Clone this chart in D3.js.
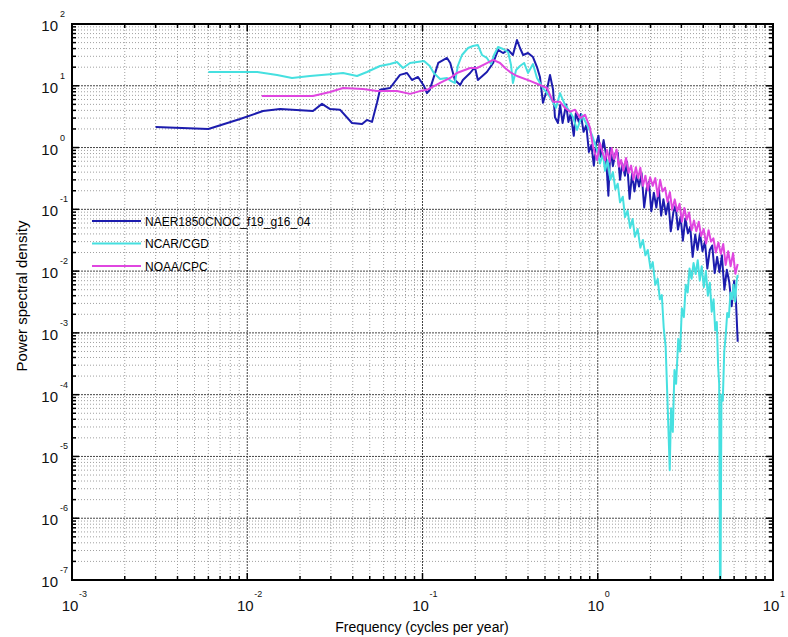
<!DOCTYPE html>
<html>
<head>
<meta charset="utf-8">
<script src="https://cdn.jsdelivr.net/npm/d3@7"></script>
<style>
  body { margin: 0; background: #fff; }
  svg { display: block; font-family: "Liberation Sans", Arial, sans-serif; }
</style>
</head>
<body>
<svg id="chart"></svg>
<script>
// [frequency (cycles/yr), power spectral density]
const naer = [
  [0.0030, 2.15], [0.0060, 2.0], [0.0091, 2.9], [0.0123, 3.9], [0.0154, 4.2], [0.0237, 3.9],
  [0.0267, 5.1], [0.0297, 4.2], [0.0338, 4.1], [0.0396, 2.5], [0.0452, 2.4], [0.0482, 2.8],
  [0.0515, 2.6], [0.0550, 5.3], [0.0572, 8.6], [0.0653, 9.2], [0.0744, 15.0], [0.0816, 16.1],
  [0.0871, 12.4], [0.0943, 13.9], [0.102, 9.9], [0.106, 7.6], [0.110, 8.6], [0.123, 23.4],
  [0.138, 28.2], [0.144, 23.4], [0.153, 12.4], [0.164, 10.3], [0.170, 12.4], [0.187, 16.1],
  [0.199, 20.1], [0.207, 12.4], [0.233, 16.7], [0.253, 23.4], [0.270, 38.0], [0.288, 33.9],
  [0.308, 38.0], [0.328, 31.5], [0.346, 55.1], [0.360, 40.9], [0.375, 31.5], [0.400, 33.9],
  [0.427, 29.2], [0.450, 20.1], [0.468, 13.9], [0.487, 5.3], [0.513, 8.6], [0.534, 15.0],
  [0.556, 8.6], [0.570, 3.1], [0.593, 2.5], [0.61, 4.9], [0.63, 2.5], [0.66, 5.0],
  [0.68, 2.6], [0.70, 3.5], [0.73, 1.55], [0.75, 3.6], [0.78, 2.6], [0.80, 3.5],
  [0.83, 1.8], [0.86, 2.3], [0.89, 0.85], [0.92, 1.1], [0.95, 0.51], [0.98, 1.17],
  [1.01, 1.55], [1.04, 0.71], [1.08, 1.32], [1.11, 0.83], [1.15, 0.166], [1.18, 0.98],
  [1.22, 0.50], [1.26, 0.81], [1.30, 0.83], [1.34, 0.30], [1.38, 0.55], [1.43, 0.35],
  [1.47, 0.59], [1.52, 0.148], [1.57, 0.38], [1.62, 0.195], [1.67, 0.355], [1.72, 0.234],
  [1.78, 0.38], [1.84, 0.107], [1.90, 0.219], [1.96, 0.28], [2.02, 0.093], [2.09, 0.186],
  [2.16, 0.107], [2.23, 0.219], [2.30, 0.079], [2.37, 0.145], [2.45, 0.083], [2.53, 0.135],
  [2.61, 0.044], [2.70, 0.089], [2.78, 0.115], [2.87, 0.047], [2.97, 0.076], [3.06, 0.031],
  [3.16, 0.071], [3.27, 0.041], [3.37, 0.052], [3.48, 0.017], [3.60, 0.039], [3.71, 0.022],
  [3.83, 0.041], [3.96, 0.021], [4.09, 0.030], [4.22, 0.011], [4.36, 0.022], [4.50, 0.026],
  [4.65, 0.0093], [4.80, 0.017], [4.95, 0.0096], [5.11, 0.018], [5.28, 0.005], [5.45, 0.0105],
  [5.63, 0.0066], [5.81, 0.0027], [6.0, 0.0069], [6.15, 0.0032], [6.29, 0.00072]
];

const ncar = [
  [0.0060, 16.7], [0.0080, 16.7], [0.0114, 16.7], [0.0148, 15.0], [0.0180, 13.4], [0.0228, 14.4],
  [0.0309, 15.5], [0.0352, 16.1], [0.0423, 14.4], [0.0482, 16.7], [0.0572, 20.9], [0.0653, 22.5],
  [0.0715, 24.3], [0.0774, 19.4], [0.0849, 23.4], [0.093, 24.3], [0.102, 25.2], [0.110, 20.9],
  [0.116, 16.1], [0.126, 12.9], [0.138, 13.4], [0.145, 12.0], [0.153, 11.1], [0.159, 20.9],
  [0.168, 31.5], [0.182, 40.9], [0.194, 44.1], [0.207, 45.7], [0.2185, 31.5], [0.233, 28.2],
  [0.246, 22.5], [0.256, 31.5], [0.270, 42.4], [0.288, 39.4], [0.308, 35.2], [0.320, 21.7],
  [0.328, 11.1], [0.342, 18.0], [0.360, 20.9], [0.380, 23.4], [0.400, 16.1], [0.427, 22.5],
  [0.450, 13.4], [0.487, 9.2], [0.534, 6.6], [0.578, 4.4], [0.609, 7.6], [0.650, 4.9],
  [0.695, 3.8], [0.723, 3.1], [0.762, 1.93], [0.813, 3.37], [0.869, 2.32], [0.927, 1.60],
  [0.99, 0.92], [1.03, 0.55], [1.07, 0.80], [1.10, 0.42], [1.14, 0.62], [1.18, 0.30],
  [1.22, 0.40], [1.26, 0.21], [1.30, 0.26], [1.34, 0.13], [1.39, 0.16], [1.43, 0.075],
  [1.48, 0.095], [1.53, 0.05], [1.58, 0.07], [1.63, 0.036], [1.69, 0.048], [1.75, 0.024],
  [1.81, 0.032], [1.87, 0.018], [1.93, 0.022], [2.0, 0.011], [2.06, 0.014], [2.13, 0.006],
  [2.2, 0.0075], [2.26, 0.0035], [2.32, 0.0041], [2.38, 0.0012], [2.44, 0.0006], [2.5, 8e-5],
  [2.575, 6e-6], [2.62, 6e-5], [2.68, 2.5e-5], [2.74, 2.5e-4], [2.8, 1.5e-4], [2.88, 8e-4],
  [2.95, 5e-4], [3.02, 0.0025], [3.1, 0.0018], [3.18, 0.006], [3.26, 0.0045], [3.34, 0.011],
  [3.43, 0.0075], [3.52, 0.0135], [3.62, 0.009], [3.72, 0.015], [3.82, 0.007], [3.92, 0.012],
  [4.03, 0.0055], [4.14, 0.01], [4.25, 0.004], [4.36, 0.0065], [4.47, 0.0022], [4.58, 0.0035],
  [4.68, 0.0011], [4.78, 0.0015], [4.86, 3e-4], [4.93, 1.5e-4], [5.0, 1e-8], [5.08, 1e-4],
  [5.17, 8e-5], [5.27, 5e-4], [5.37, 9e-4], [5.48, 0.0021], [5.6, 0.0018], [5.72, 0.0045],
  [5.84, 0.0035], [5.96, 0.006], [6.08, 0.0032], [6.2, 0.007], [6.29, 0.0087]
];

const noaa = [
  [0.0121, 6.84], [0.0237, 6.84], [0.0297, 7.94], [0.0352, 9.2], [0.0458, 8.9], [0.055, 8.2],
  [0.0653, 8.2], [0.0715, 8.2], [0.0849, 7.4], [0.0967, 8.2], [0.106, 8.6], [0.126, 11.1],
  [0.144, 13.4], [0.157, 16.1], [0.187, 19.4], [0.205, 19.4], [0.227, 22.5], [0.253, 26.2],
  [0.277, 23.4], [0.296, 19.4], [0.316, 16.7], [0.346, 14.4], [0.411, 12.0], [0.468, 10.3],
  [0.513, 9.2], [0.556, 5.5], [0.609, 5.5], [0.650, 4.4], [0.695, 3.8], [0.742, 4.1],
  [0.792, 3.0], [0.846, 3.4], [0.903, 2.1], [0.940, 1.02], [0.990, 0.63], [1.03, 1.17],
  [1.06, 0.87], [1.10, 0.62], [1.13, 0.91], [1.17, 0.59], [1.20, 0.98], [1.24, 0.65],
  [1.28, 0.93], [1.32, 0.49], [1.36, 0.63], [1.40, 0.42], [1.45, 0.68], [1.50, 0.39],
  [1.55, 0.51], [1.60, 0.30], [1.65, 0.48], [1.70, 0.32], [1.75, 0.47], [1.81, 0.24],
  [1.87, 0.35], [1.93, 0.204], [1.99, 0.33], [2.06, 0.24], [2.13, 0.32], [2.20, 0.162],
  [2.27, 0.30], [2.34, 0.195], [2.42, 0.224], [2.50, 0.132], [2.58, 0.19], [2.66, 0.098],
  [2.75, 0.145], [2.84, 0.093], [2.93, 0.123], [3.02, 0.063], [3.12, 0.105], [3.22, 0.068],
  [3.32, 0.089], [3.43, 0.046], [3.54, 0.066], [3.65, 0.044], [3.77, 0.063], [3.89, 0.037],
  [4.02, 0.048], [4.15, 0.028], [4.29, 0.046], [4.43, 0.030], [4.57, 0.034], [4.72, 0.020],
  [4.88, 0.029], [5.04, 0.019], [5.20, 0.0275], [5.37, 0.0126], [5.55, 0.021], [5.73, 0.012],
  [5.92, 0.0195], [6.10, 0.0091], [6.29, 0.013]
];

const seriesNames = ["NAER1850CNOC_f19_g16_04", "NCAR/CGD", "NOAA/CPC"];
const seriesColors = ["#1c1cae", "#46e0e0", "#e046e0"];
const xDomain = [1e-3, 1e1];
const yDomain = [1e-7, 1e2];

const width = 788;
const height = 637;
const plot = {left: 72, right: 773, top: 24, bottom: 580};

const svg = d3.select("#chart")
    .attr("width", width)
    .attr("height", height)
    .attr("viewBox", [0, 0, width, height]);

const x = d3.scaleLog().domain(xDomain).range([plot.left, plot.right]);
const y = d3.scaleLog().domain(yDomain).range([plot.bottom, plot.top]);

const isMajor = v => Math.abs(Math.log10(v) - Math.round(Math.log10(v))) < 1e-9;
const xTicks = x.ticks();
const yTicks = y.ticks();

// grid
const grid = svg.append("g");
grid.selectAll(".vg")
    .data(xTicks.filter(v => v > xDomain[0] && v < xDomain[1]))
    .join("line")
    .attr("x1", d => x(d)).attr("x2", d => x(d))
    .attr("y1", plot.top).attr("y2", plot.bottom)
    .attr("stroke", d => isMajor(d) ? "#444" : "#a0a0a0")
    .attr("stroke-width", 1)
    .attr("stroke-dasharray", d => isMajor(d) ? "2,1" : "1,2");
grid.selectAll(".hg")
    .data(yTicks.filter(v => v > yDomain[0] && v < yDomain[1]))
    .join("line")
    .attr("y1", d => y(d)).attr("y2", d => y(d))
    .attr("x1", plot.left).attr("x2", plot.right)
    .attr("stroke", d => isMajor(d) ? "#444" : "#a0a0a0")
    .attr("stroke-width", 1)
    .attr("stroke-dasharray", d => isMajor(d) ? "2,1" : "1,2");

// data lines
svg.append("clipPath").attr("id", "clip")
    .append("rect")
    .attr("x", plot.left).attr("y", plot.top)
    .attr("width", plot.right - plot.left).attr("height", plot.bottom - plot.top);

const line = d3.line().x(d => x(d[0])).y(d => y(d[1]));
const allSeries = [naer, ncar, noaa];

svg.append("g")
    .attr("clip-path", "url(#clip)")
    .selectAll("path")
    .data(allSeries)
    .join("path")
    .attr("d", line)
    .attr("fill", "none")
    .attr("stroke", (d, i) => seriesColors[i])
    .attr("stroke-width", 2)
    .attr("stroke-linejoin", "round");

// ticks inside, on all four sides
const ticks = svg.append("g").attr("stroke", "#000").attr("stroke-width", 1.5);
const tl = d => isMajor(d) ? 7 : 4;
xTicks.forEach(d => {
  ticks.append("line").attr("x1", x(d)).attr("x2", x(d)).attr("y1", plot.bottom).attr("y2", plot.bottom - tl(d));
  ticks.append("line").attr("x1", x(d)).attr("x2", x(d)).attr("y1", plot.top).attr("y2", plot.top + tl(d));
});
yTicks.forEach(d => {
  ticks.append("line").attr("y1", y(d)).attr("y2", y(d)).attr("x1", plot.left).attr("x2", plot.left + tl(d));
  ticks.append("line").attr("y1", y(d)).attr("y2", y(d)).attr("x1", plot.right).attr("x2", plot.right - tl(d));
});

// box
svg.append("rect")
    .attr("x", plot.left).attr("y", plot.top)
    .attr("width", plot.right - plot.left).attr("height", plot.bottom - plot.top)
    .attr("fill", "none").attr("stroke", "#000").attr("stroke-width", 2);

// tick labels 10^n
const yLab = svg.append("g").attr("font-size", 15).attr("fill", "#111");
yTicks.filter(isMajor).forEach(d => {
  const n = Math.round(Math.log10(d));
  yLab.append("text").attr("x", 58).attr("y", y(d) + 7).attr("text-anchor", "end").text("10");
  yLab.append("text").attr("x", 60).attr("y", y(d) - 7).attr("font-size", 9).text(n);
});
const xLab = svg.append("g").attr("font-size", 15).attr("fill", "#111");
xTicks.filter(isMajor).forEach(d => {
  const n = Math.round(Math.log10(d));
  xLab.append("text").attr("x", x(d) - 2).attr("y", 611).attr("text-anchor", "middle").text("10");
  xLab.append("text").attr("x", x(d) + 7).attr("y", 597).attr("font-size", 9).text(n);
});

// axis titles
svg.append("text")
    .attr("x", 422).attr("y", 632)
    .attr("text-anchor", "middle")
    .attr("font-size", 14)
    .text("Frequency (cycles per year)");
svg.append("text")
    .attr("transform", "translate(27,296) rotate(-90)")
    .attr("text-anchor", "middle")
    .attr("font-size", 15)
    .text("Power spectral density");

// legend
const legend = svg.append("g")
    .selectAll("g")
    .data(seriesNames)
    .join("g")
    .attr("transform", (d, i) => `translate(92,${221 + i * 22.5})`);
legend.append("line")
    .attr("x1", 0).attr("x2", 49)
    .attr("stroke", (d, i) => seriesColors[i])
    .attr("stroke-width", 2);
legend.append("text")
    .attr("x", 53).attr("y", 4.5)
    .attr("font-size", 12)
    .text(d => d);
</script>
</body>
</html>
